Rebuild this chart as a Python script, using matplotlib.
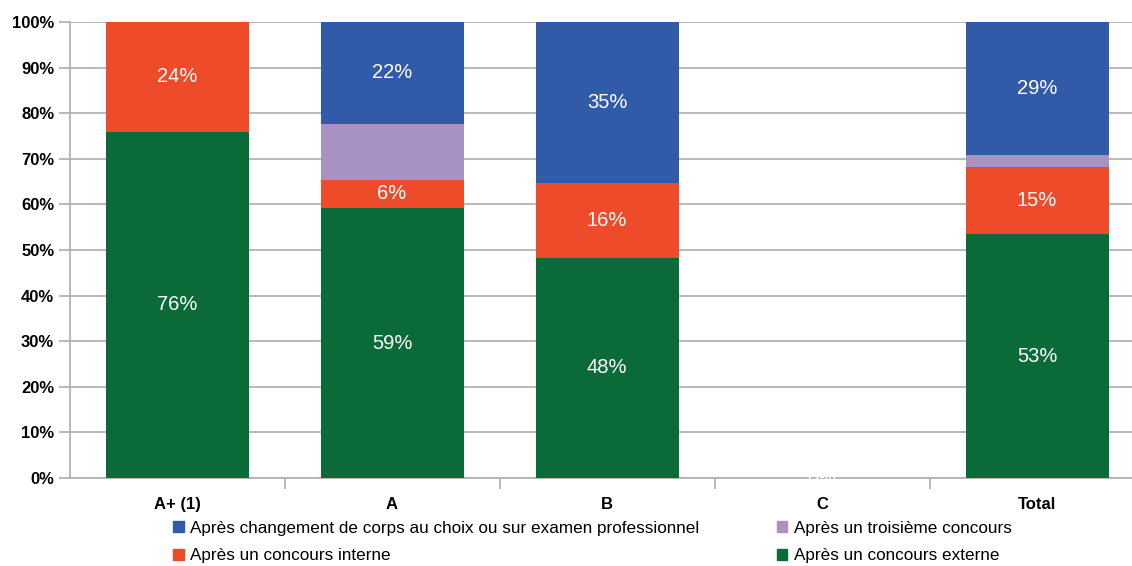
import matplotlib.pyplot as plt
import numpy as np
from matplotlib.patches import Patch

categories = ['A+ (1)', 'A', 'B', 'C', 'Total']
externe = [75.9, 59.2, 48.3, 0.0, 53.4]
interne = [24.1, 6.2, 16.3, 0.0, 14.8]
troisieme = [0.0, 12.3, 0.0, 0.0, 2.6]
changement = [0.0, 22.3, 35.4, 0.0, 29.2]

series = [
    ('Après un concours externe', externe, '#0B6B38', True),
    ('Après un concours interne', interne, '#EE4B2B', True),
    ('Après un troisième concours', troisieme, '#A892C4', False),
    ('Après changement de corps au choix ou sur examen professionnel', changement, '#315AA9', True),
]

plt.rcParams['font.family'] = ['Liberation Sans', 'DejaVu Sans']

fig = plt.figure(figsize=(11.32, 5.66), dpi=100)
W, H = 1132, 566
ax = fig.add_axes([69.5 / W, 1 - 478 / H, (1144.5 - 69.5) / W, (478 - 22) / H])

x = np.arange(len(categories))
bottom = np.zeros(len(categories))
bar_w = 143 / 215
for name, vals, color, labelled in series:
    vals = np.array(vals)
    ax.bar(x, vals, bottom=bottom, width=bar_w, color=color, zorder=3)
    if labelled:
        for xi, b, v in zip(x, bottom, vals):
            if v > 0:
                ax.text(xi, b + v / 2, f'{v:.0f}%', ha='center', va='center',
                        color='white', fontsize=14.5, zorder=4)
    bottom += vals

# empty C column still carries a white 0% label sitting on the axis
ax.text(3, 0, '0%', ha='center', va='center', color='white', fontsize=14.5, zorder=4)

ax.set_xlim(-0.5, len(categories) - 0.5)
ax.set_ylim(0, 100)
ax.set_yticks(np.arange(0, 101, 10))
ax.set_yticklabels([f'{v}%' for v in range(0, 101, 10)], fontweight='bold', fontsize=12)
ax.yaxis.grid(True, color='#b3b3b3', linewidth=1.3, zorder=0)
ax.tick_params(axis='y', length=8, width=1.3, color='#b3b3b3', pad=3)

ax.set_xticks(x)
ax.set_xticklabels(categories, fontweight='bold', fontsize=12)
ax.tick_params(axis='x', length=0, pad=14)
ax.set_xticks(np.arange(0.5, len(categories) - 0.5, 1), minor=True)
ax.tick_params(axis='x', which='minor', length=8, width=1.3, color='#b3b3b3')

for s in ['top', 'right']:
    ax.spines[s].set_visible(False)
for s in ['left', 'bottom']:
    ax.spines[s].set_color('#b3b3b3')
    ax.spines[s].set_linewidth(1.3)

handles = [Patch(color=series[3][2], label=series[3][0]),
           Patch(color=series[1][2], label=series[1][0]),
           Patch(color=series[2][2], label=series[2][0]),
           Patch(color=series[0][2], label=series[0][0])]
fig.legend(handles=handles, ncol=2, loc='center left',
           bbox_to_anchor=(158 / W, 1 - 542 / H), frameon=False,
           fontsize=12.3, handlelength=0.6, handleheight=0.6,
           handletextpad=0.4, columnspacing=4.5, labelspacing=0.75)

fig.savefig('out.png', dpi=100)
